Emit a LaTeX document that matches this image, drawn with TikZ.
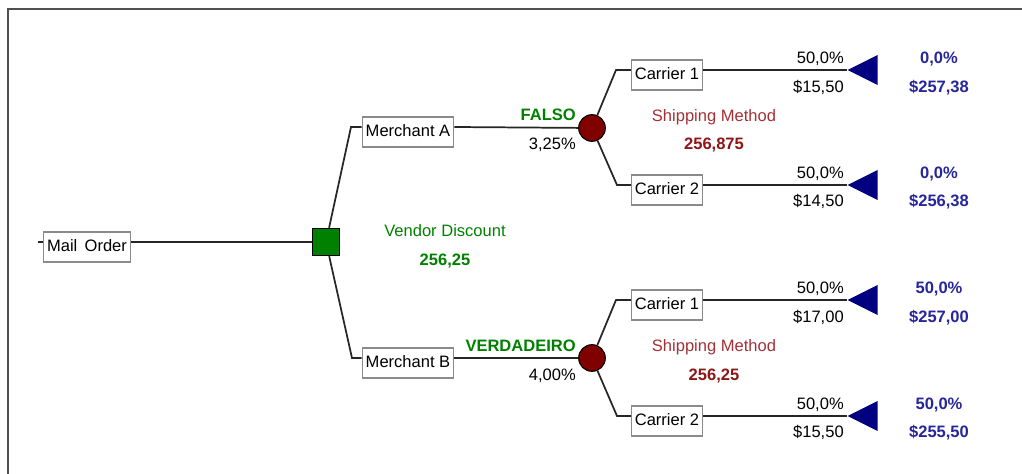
\documentclass[tikz,border=0pt]{standalone}
\usepackage{fontspec}
\setmainfont{Liberation Sans}
\usepackage{tikz}
\usetikzlibrary{shapes.geometric}
\definecolor{TreeGreen}{HTML}{008000}
\definecolor{TreeMaroon}{HTML}{800000}
\definecolor{TreeNavy}{HTML}{000080}
\definecolor{TreeRed}{HTML}{A33036}
\definecolor{TreeDarkRed}{HTML}{8E1616}
\definecolor{TreeBlue}{HTML}{26269A}
\definecolor{TreeFrame}{HTML}{505050}
\definecolor{TreeBoxLine}{HTML}{8A8A8A}

\begin{document}
\begin{tikzpicture}[
            x=0.75pt, y=-0.75pt,
            font=\fontsize{12.4}{14}\selectfont,
            branch/.style={draw=black!85, line width=1.3pt},
            choice/.style={
                    draw=TreeBoxLine,
                    line width=0.9pt,
                    fill=white,
                    inner xsep=2.6pt,
                    inner ysep=0pt,
                    minimum height=22.5pt,
                    text height=8.9pt,
                    text depth=2.4pt
                },
            decision/.style={rectangle, draw=black, line width=0.8pt, fill=TreeGreen, minimum size=20.5pt, inner sep=0pt},
            chance/.style={circle, draw=black, line width=0.8pt, fill=TreeMaroon, minimum size=20pt, inner sep=0pt},
            terminal/.style={
                    isosceles triangle,
                    isosceles triangle stretches,
                    shape border rotate=180,
                    fill=TreeNavy,
                    minimum width=22.5pt,
                    minimum height=22.5pt,
                    inner sep=0pt,
                    anchor=apex
                },
            lbl/.style={inner sep=0pt, text height=8.9pt, text depth=0pt},
            prob/.style={lbl, anchor=east},
            outcome/.style={lbl, anchor=east, font=\fontsize{12.4}{14}\selectfont\bfseries, text=TreeGreen},
            vendor/.style={lbl, text=TreeGreen},
            shipping/.style={lbl, text=TreeRed},
            shipval/.style={lbl, font=\fontsize{12.4}{14}\selectfont\bfseries, text=TreeDarkRed},
            result/.style={lbl, font=\fontsize{12.4}{14}\selectfont\bfseries, text=TreeBlue},
        ]

        \useasboundingbox (0,0) rectangle (1022,474);
        \draw[TreeFrame, line width=1.6pt] (8,474) -- (8,9) -- (1022,9);

        % Nodes
        \coordinate (start) at (38,242);
        \node[choice] (mail) at (87,247) {Mail\, Order};
        \node[decision] (dec) at (326,242) {};
        \node[choice] (ma) at (408,132) {Merchant A};
        \node[choice] (mb) at (408,363) {Merchant B};
        \node[chance] (ca) at (592,128) {};
        \node[chance] (cb) at (592,358) {};
        \node[choice] (a1) at (667,75) {Carrier 1};
        \node[choice] (a2) at (667,190) {Carrier 2};
        \node[choice] (b1) at (667,305) {Carrier 1};
        \node[choice] (b2) at (667,421) {Carrier 2};
        \node[terminal] (ta1) at (847,70) {};
        \node[terminal] (ta2) at (847,185) {};
        \node[terminal] (tb1) at (847,300) {};
        \node[terminal] (tb2) at (847,416) {};

        % Branches
        \draw[branch] (start) -- ([yshift=3.75pt]mail.west);
        \draw[branch] ([yshift=3.75pt]mail.east) -- (dec.west);
        \draw[branch] (dec) -- (351,127) -- ([yshift=3.75pt]ma.west);
        \draw[branch] (dec) -- (352,358) -- ([yshift=3.75pt]mb.west);
        \draw[branch] ([yshift=3.75pt]ma.east) -- (ca);
        \draw[branch] ([yshift=3.75pt]mb.east) -- (cb);
        \draw[branch] (ca) -- (616,70) -- ([yshift=3.75pt]a1.west);
        \draw[branch] (ca) -- (617,185) -- ([yshift=3.75pt]a2.west);
        \draw[branch] (cb) -- (616,300) -- ([yshift=3.75pt]b1.west);
        \draw[branch] (cb) -- (617,416) -- ([yshift=3.75pt]b2.west);
        \draw[branch] ([yshift=3.75pt]a1.east) -- (ta1.apex);
        \draw[branch] ([yshift=3.75pt]a2.east) -- (ta2.apex);
        \draw[branch] ([yshift=3.75pt]b1.east) -- (tb1.apex);
        \draw[branch] ([yshift=3.75pt]b2.east) -- (tb2.apex);

        % Labels
        \node[vendor] (vdname) at (445,231) {Vendor Discount};
        \node[vendor, font=\fontsize{12.4}{14}\selectfont\bfseries] (vdval) at (445,260) {256,25};
        \node[outcome] (falso) at (576,115) {FALSO};
        \node[prob] (pa) at (576,144) {3,25\%};
        \node[outcome] (verd) at (576,346) {VERDADEIRO};
        \node[prob] (pb) at (576,375) {4,00\%};
        \node[shipping] (sma) at (714,116) {Shipping Method};
        \node[shipval] (sva) at (714,144) {256,875};
        \node[shipping] (smb) at (714,346) {Shipping Method};
        \node[shipval] (svb) at (714,375) {256,25};

        \node[prob] (pa1) at (844,58) {50,0\%};
        \node[prob] (va1) at (844,87) {\$15,50};
        \node[prob] (pa2) at (844,173) {50,0\%};
        \node[prob] (va2) at (844,201) {\$14,50};
        \node[prob] (pb1) at (844,288) {50,0\%};
        \node[prob] (vb1) at (844,317) {\$17,00};
        \node[prob] (pb2) at (844,404) {50,0\%};
        \node[prob] (vb2) at (844,432) {\$15,50};

        \node[result] (ra1) at (939,58) {0,0\%};
        \node[result] (ea1) at (939,87) {\$257,38};
        \node[result] (ra2) at (939,173) {0,0\%};
        \node[result] (ea2) at (939,201) {\$256,38};
        \node[result] (rb1) at (939,288) {50,0\%};
        \node[result] (eb1) at (939,317) {\$257,00};
        \node[result] (rb2) at (939,404) {50,0\%};
        \node[result] (eb2) at (939,432) {\$255,50};

    \end{tikzpicture}
\end{document}
